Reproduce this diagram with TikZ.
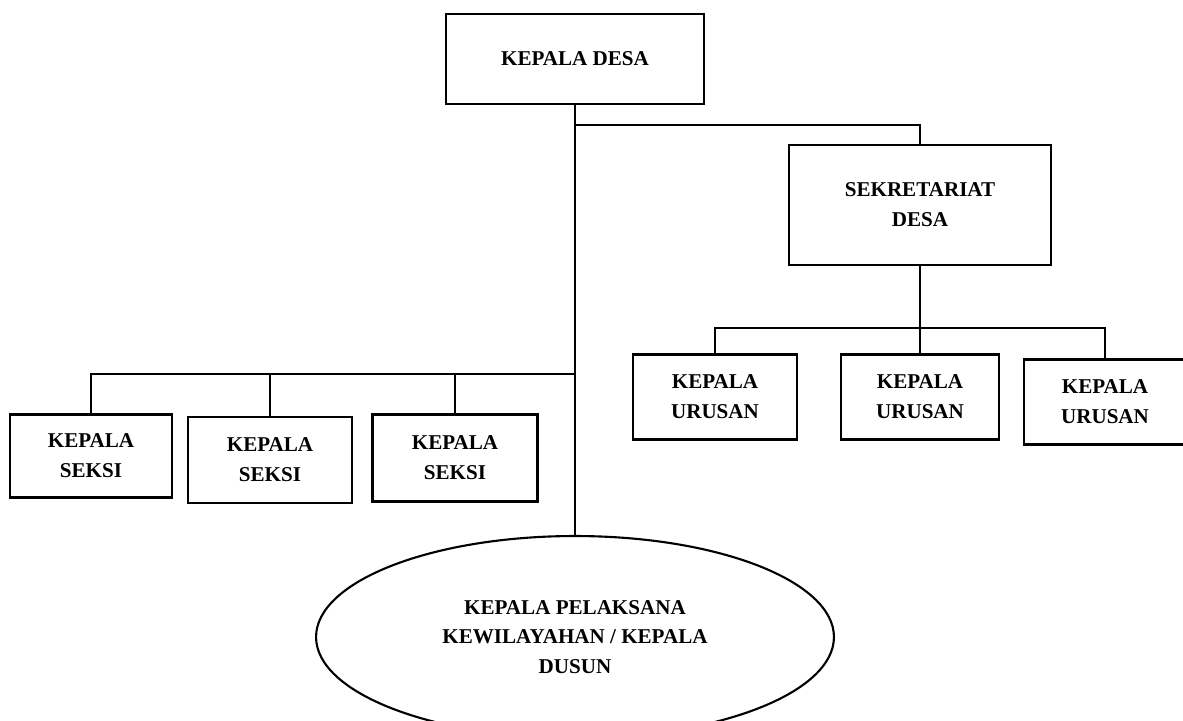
\documentclass[tikz,border=0pt]{standalone}
\usepackage{fontspec}
\setmainfont{Liberation Serif}
\usetikzlibrary{shapes.geometric}
\begin{document}
\begin{tikzpicture}[x=0.02cm,y=-0.02cm,line width=1.2pt,
    box/.style={draw,rectangle,align=center,inner sep=0pt,font=\fontsize{12}{17}\selectfont\bfseries},
    oval/.style={draw,ellipse,align=center,inner sep=0pt,font=\fontsize{12}{17}\selectfont\bfseries}]
    \useasboundingbox (0,0) rectangle (1183,720);
    % kepala desa dan sekretariat
    \node[box,minimum width=5.16cm,minimum height=1.8cm](kd) at (575,59) {KEPALA DESA};
    \node[box,minimum width=5.24cm,minimum height=2.4cm](sek) at (920,205) {SEKRETARIAT\\DESA};
    % kepala urusan
    \node[box,minimum width=3.28cm,minimum height=1.7cm](ur1) at (715,397) {KEPALA\\URUSAN};
    \node[box,minimum width=3.16cm,minimum height=1.7cm](ur2) at (920,397) {KEPALA\\URUSAN};
    \node[box,minimum width=3.24cm,minimum height=1.7cm](ur3) at (1105,402) {KEPALA\\URUSAN};
    % kepala seksi
    \node[box,minimum width=3.24cm,minimum height=1.66cm](sk1) at (91,456) {KEPALA\\SEKSI};
    \node[box,minimum width=3.28cm,minimum height=1.72cm](sk2) at (270,460) {KEPALA\\SEKSI};
    \node[box,minimum width=3.3cm,minimum height=1.74cm](sk3) at (455,458) {KEPALA\\SEKSI};
    % kepala dusun
    \node[oval,minimum width=10.36cm,minimum height=4.04cm](dusun) at (575,637) {KEPALA PELAKSANA\\KEWILAYAHAN / KEPALA\\DUSUN};
    \coordinate (ka) at (575,125);
    \coordinate (kb) at (575,374);
    \coordinate (kc) at (920,328);
    \draw (kd.south) -- (dusun.north);
    \draw (ka) -| (sek.north);
    \draw (sek.south) -- (kc);
    \draw (ur1.north) |- (kc) -| (ur3.north);
    \draw (kc) -- (ur2.north);
    \draw (sk1.north) |- (kb);
    \draw (sk2.north) -- (sk2.north |- kb);
    \draw (sk3.north) -- (sk3.north |- kb);
\end{tikzpicture}
\end{document}
